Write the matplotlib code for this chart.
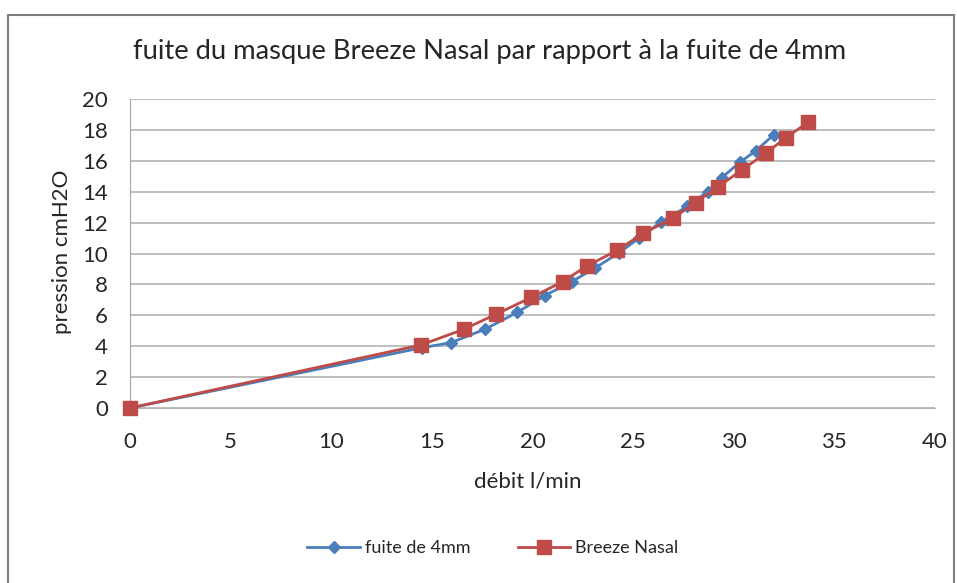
import matplotlib.pyplot as plt
from matplotlib.patches import Rectangle

# données
x_fuite = [0, 14.5, 15.95, 17.66, 19.24, 20.6, 21.95, 23.1, 24.3, 25.3, 26.4, 27.7, 28.7, 29.4, 30.3, 31.1, 32.0]
y_fuite = [0, 3.9, 4.23, 5.11, 6.19, 7.27, 8.18, 9.05, 10.05, 11.0, 12.06, 13.05, 14.0, 14.9, 15.9, 16.65, 17.7]
x_breeze = [0, 14.46, 16.6, 18.2, 19.95, 21.5, 22.7, 24.2, 25.5, 27.0, 28.1, 29.2, 30.4, 31.6, 32.6, 33.7]
y_breeze = [0, 4.08, 5.1, 6.08, 7.16, 8.18, 9.19, 10.2, 11.3, 12.3, 13.3, 14.3, 15.4, 16.5, 17.5, 18.5]

plt.rcParams['font.family'] = ['Lato', 'DejaVu Sans']
txt = '#262626'

fig = plt.figure(figsize=(9.57, 5.83), dpi=100)
fig.patches.append(Rectangle((8 / 957, -0.1), 946 / 957, 1.1 - 15 / 583, transform=fig.transFigure,
                             fill=False, edgecolor='#7f7f7f', linewidth=1.5))

ax = fig.add_axes([130 / 957, 175 / 583, 805 / 957, 309 / 583])
ax.plot(x_fuite, y_fuite, color='#4a7ebb', lw=2, marker='D', ms=6, label='fuite de 4mm',
        zorder=3, clip_on=False)
ax.plot(x_breeze, y_breeze, color='#be4b48', lw=2, marker='s', ms=10, label='Breeze Nasal',
        zorder=4, clip_on=False)

ax.set_xlim(0, 40)
ax.set_ylim(0, 20)
ax.set_xticks(range(0, 41, 5))
ax.set_yticks(range(0, 21, 2))
ax.grid(axis='y', color='#b3b3b3', lw=1.2)
ax.set_axisbelow(True)
for s in ['top', 'right']:
    ax.spines[s].set_visible(False)
ax.spines['left'].set_color('#a6a6a6')
ax.spines['bottom'].set_color('#b3b3b3')
ax.tick_params(length=0, labelsize=16, colors=txt)
ax.tick_params(axis='x', pad=17)
ax.tick_params(axis='y', pad=16)

fig.text(490 / 957, 1 - 52 / 583, 'fuite du masque Breeze Nasal par rapport à la fuite de 4mm',
         ha='center', va='center', fontsize=19.7, color=txt)
fig.text(528 / 957, 1 - 482 / 583, 'débit l/min', ha='center', va='center', fontsize=16, color=txt)
fig.text(62 / 957, 1 - 252 / 583, 'pression cmH2O', ha='center', va='center', rotation=90,
         fontsize=16, color=txt)

fig.legend(loc='center', bbox_to_anchor=(493 / 957, 1 - 548 / 583), ncol=2, frameon=False,
           fontsize=13, handlelength=2.9, columnspacing=2.6, handletextpad=0.3,
           labelcolor=txt)

fig.savefig('out.png', dpi=100)
